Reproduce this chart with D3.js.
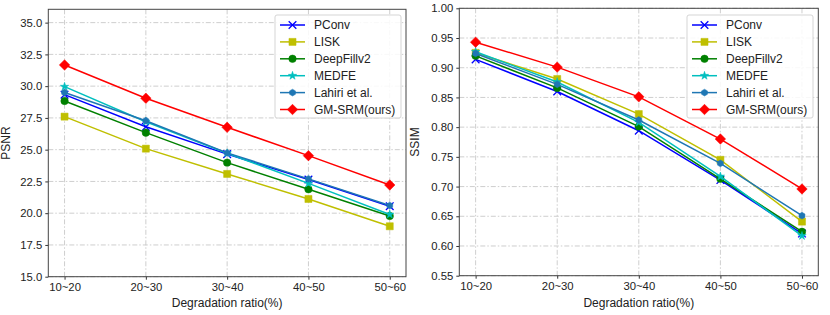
<!DOCTYPE html>
<html>
<head>
<meta charset="utf-8">
<script src="https://cdn.jsdelivr.net/npm/d3@7"></script>
<style>
  body { margin: 0; background: #fff; }
  svg { font-family: "Liberation Sans", Arial, sans-serif; }
</style>
</head>
<body>
<svg id="chart" width="830" height="315"></svg>
<script>
const ratios = ["10~20", "20~30", "30~40", "40~50", "50~60"];
const methods = ["PConv", "LISK", "DeepFillv2", "MEDFE", "Lahiri et al.", "GM-SRM(ours)"];

// PSNR values per method
const psnrPConv = [29.33, 26.8, 24.65, 22.65, 20.55];
const psnrLISK = [27.6, 25.08, 23.09, 21.12, 18.97];
const psnrDeepFill = [28.83, 26.34, 23.98, 21.88, 19.78];
const psnrMEDFE = [29.96, 27.2, 24.72, 22.35, 19.9];
const psnrLahiri = [29.5, 27.28, 24.75, 22.7, 20.6];
const psnrOurs = [31.67, 29.05, 26.76, 24.53, 22.22];

// SSIM values per method
const ssimPConv = [0.914, 0.86, 0.794, 0.711, 0.621];
const ssimLISK = [0.925, 0.881, 0.822, 0.745, 0.641];
const ssimDeepFill = [0.92, 0.866, 0.801, 0.713, 0.624];
const ssimMEDFE = [0.927, 0.876, 0.808, 0.717, 0.617];
const ssimLahiri = [0.924, 0.872, 0.812, 0.739, 0.651];
const ssimOurs = [0.943, 0.901, 0.851, 0.78, 0.696];

const psnrTicks = [15.0, 17.5, 20.0, 22.5, 25.0, 27.5, 30.0, 32.5, 35.0];
const ssimTicks = [0.55, 0.60, 0.65, 0.70, 0.75, 0.80, 0.85, 0.90, 0.95, 1.00];

const colors = ["#0000ff", "#bfbf00", "#008000", "#00bfbf", "#1f77b4", "#ff0000"];

const hexagon = {
  draw(ctx, size) {
    const r = Math.sqrt(size / 2.598);
    for (let i = 0; i < 6; i++) {
      const a = Math.PI / 3 * i - Math.PI / 2;
      if (i === 0) ctx.moveTo(r * Math.cos(a), r * Math.sin(a));
      else ctx.lineTo(r * Math.cos(a), r * Math.sin(a));
    }
    ctx.closePath();
  }
};
const markers = [
  { type: d3.symbolTimes || d3.symbolCross, size: 40, stroke: true },
  { type: d3.symbolSquare, size: 50 },
  { type: d3.symbolCircle, size: 44 },
  { type: d3.symbolStar, size: 22 },
  { type: hexagon, size: 30 },
  { type: d3.symbolDiamond2 || d3.symbolDiamond, size: 70 }
];

const svg = d3.select("#chart");

const drawPanel = (cfg) => {
  const x = d3.scalePoint().domain(ratios).range([cfg.left, cfg.right]).padding(0.2);
  const y = d3.scaleLinear().domain(cfg.domain).range([cfg.bottom, cfg.top]);
  const g = svg.append("g");

  // grid
  g.append("g")
    .selectAll("line.gx")
    .data(ratios)
    .enter()
    .append("line")
    .attr("x1", (d) => x(d)).attr("x2", (d) => x(d))
    .attr("y1", cfg.top).attr("y2", cfg.bottom)
    .attr("stroke", "#c8c8c8").attr("stroke-width", 0.9)
    .attr("stroke-dasharray", "5,2,1.5,2");
  g.append("g")
    .selectAll("line.gy")
    .data(cfg.ticks)
    .enter()
    .append("line")
    .attr("x1", cfg.left).attr("x2", cfg.right)
    .attr("y1", (d) => y(d)).attr("y2", (d) => y(d))
    .attr("stroke", "#c8c8c8").attr("stroke-width", 0.9)
    .attr("stroke-dasharray", "5,2,1.5,2");

  // axes
  const xAxis = g.append("g")
    .attr("transform", `translate(0,${cfg.bottom})`)
    .call(d3.axisBottom(x).tickSizeInner(3).tickSizeOuter(0).tickPadding(3));
  const yAxis = g.append("g")
    .attr("transform", `translate(${cfg.left},0)`)
    .call(d3.axisLeft(y).tickValues(cfg.ticks).tickFormat(d3.format(cfg.fmt)).tickSizeInner(3).tickSizeOuter(0).tickPadding(3));
  [xAxis, yAxis].forEach((a) => {
    a.select(".domain").remove();
    a.selectAll("line").attr("stroke", "#333");
    a.selectAll("text").attr("font-size", 11.3).attr("fill", "#222")
      .attr("font-family", "Liberation Sans, Arial, sans-serif");
  });

  // frame
  g.append("rect")
    .attr("x", cfg.left).attr("y", cfg.top)
    .attr("width", cfg.right - cfg.left).attr("height", cfg.bottom - cfg.top)
    .attr("fill", "none").attr("stroke", "#444").attr("stroke-width", 1);

  // series
  const line = d3.line().x((d, i) => x(ratios[i])).y((d) => y(d));
  cfg.series.forEach((vals, k) => {
    const s = g.append("g");
    s.append("path")
      .attr("d", line(vals))
      .attr("fill", "none")
      .attr("stroke", colors[k])
      .attr("stroke-width", 1.5);
    const m = markers[k];
    s.selectAll("path.mk")
      .data(vals)
      .enter()
      .append("path")
      .attr("class", "mk")
      .attr("transform", (d, i) => `translate(${x(ratios[i])},${y(d)})`)
      .attr("d", d3.symbol().type(m.type).size(m.size))
      .attr("fill", m.stroke ? "none" : colors[k])
      .attr("stroke", colors[k])
      .attr("stroke-width", m.stroke ? 1.3 : 0.5);
  });

  // axis labels
  g.append("text")
    .attr("x", (cfg.left + cfg.right) / 2)
    .attr("y", 307)
    .attr("text-anchor", "middle")
    .attr("font-size", 12)
    .attr("fill", "#222")
    .text("Degradation ratio(%)");
  g.append("text")
    .attr("transform", `translate(${cfg.ylabelX},${(cfg.top + cfg.bottom) / 2}) rotate(-90)`)
    .attr("text-anchor", "middle")
    .attr("font-size", 12)
    .attr("fill", "#222")
    .text(cfg.ylabel);

  // legend
  const lg = g.append("g").attr("transform", `translate(${cfg.legX},${cfg.legY})`);
  lg.append("rect")
    .attr("x", 0).attr("y", 0)
    .attr("width", cfg.legW).attr("height", 103)
    .attr("rx", 2)
    .attr("fill", "#fff").attr("fill-opacity", 0.85)
    .attr("stroke", "#d5d5d5");
  const item = lg.selectAll("g.item")
    .data(methods)
    .enter()
    .append("g")
    .attr("transform", (d, i) => `translate(0,${10 + i * 16.9})`);
  item.append("line")
    .attr("x1", 5).attr("x2", 30)
    .attr("stroke", (d, i) => colors[i])
    .attr("stroke-width", 1.5);
  item.append("path")
    .attr("transform", "translate(17.5,0)")
    .attr("d", (d, i) => d3.symbol().type(markers[i].type).size(markers[i].size)())
    .attr("fill", (d, i) => markers[i].stroke ? "none" : colors[i])
    .attr("stroke", (d, i) => colors[i])
    .attr("stroke-width", (d, i) => markers[i].stroke ? 1.3 : 0.5);
  item.append("text")
    .attr("x", cfg.legTextX)
    .attr("y", 4.3)
    .attr("font-size", 12)
    .attr("fill", "#222")
    .text((d) => d);
};

drawPanel({
  left: 48.3, right: 406, top: 9.3, bottom: 276.7,
  domain: [15, 36.05], ticks: psnrTicks, fmt: ".1f",
  series: [psnrPConv, psnrLISK, psnrDeepFill, psnrMEDFE, psnrLahiri, psnrOurs],
  ylabel: "PSNR", ylabelX: 10,
  legX: 275, legY: 15, legW: 126, legTextX: 39
});

drawPanel({
  left: 459.3, right: 818.3, top: 8.3, bottom: 275.7,
  domain: [0.55, 1.0], ticks: ssimTicks, fmt: ".2f",
  series: [ssimPConv, ssimLISK, ssimDeepFill, ssimMEDFE, ssimLahiri, ssimOurs],
  ylabel: "SSIM", ylabelX: 419,
  legX: 687, legY: 15, legW: 126, legTextX: 39
});
</script>
</body>
</html>
